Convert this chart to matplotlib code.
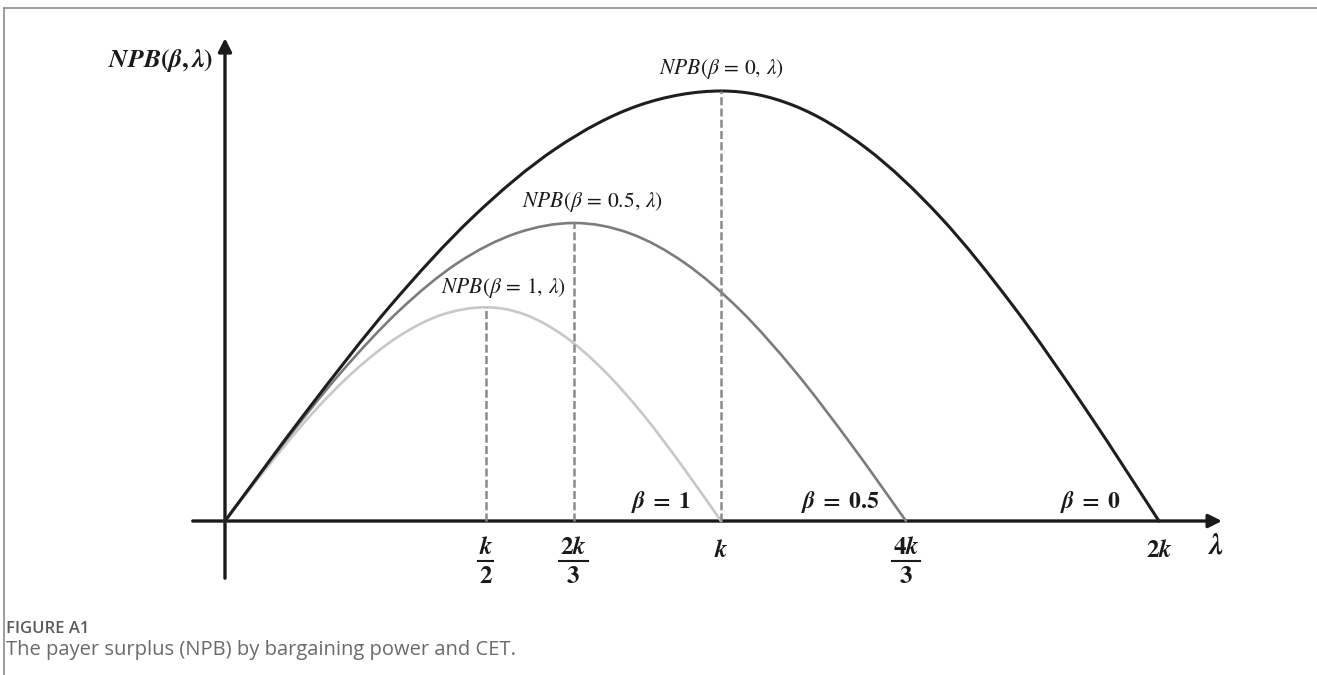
import numpy as np
import matplotlib
matplotlib.use('Agg')
import matplotlib.pyplot as plt
from matplotlib.path import Path
from matplotlib.patches import PathPatch

plt.rcParams['mathtext.fontset'] = 'stix'

# values (lambda in units of k, NPB relative to the beta=0 peak)
betas = ['0', '0.5', '1']
peak_lambda = [1.0, 0.704, 0.526]
peak_npb = [1.0, 0.693, 0.497]

lam_b0 = [0, 0.167, 0.333, 0.5, 0.667, 0.833, 1.0, 1.147, 1.294, 1.442, 1.589, 1.736, 1.883]
npb_b0 = [0, 0.259, 0.5, 0.707, 0.866, 0.966, 1.0, 0.966, 0.866, 0.707, 0.5, 0.259, 0]
lam_b05 = [0, 0.117, 0.235, 0.352, 0.469, 0.587, 0.704, 0.816, 0.927, 1.039, 1.150, 1.262, 1.373]
npb_b05 = [0, 0.179, 0.347, 0.490, 0.600, 0.669, 0.693, 0.669, 0.600, 0.490, 0.347, 0.179, 0]
lam_b1 = [0, 0.088, 0.175, 0.263, 0.351, 0.438, 0.526, 0.605, 0.684, 0.763, 0.842, 0.921, 1.0]
npb_b1 = [0, 0.129, 0.249, 0.351, 0.430, 0.480, 0.497, 0.480, 0.430, 0.351, 0.249, 0.129, 0]

tick_pos = [0.526, 0.702, 1.0, 1.373, 1.883]
tick_num = [r'$\mathbfit{k}$', r'$\mathbf{2}\mathbfit{k}$', r'$\mathbfit{k}$',
            r'$\mathbf{4}\mathbfit{k}$', r'$\mathbf{2}\mathbfit{k}$']
tick_den = [r'$\mathbf{2}$', r'$\mathbf{3}$', None, r'$\mathbf{3}$', None]

colors = ['#1e1e1e', '#7c7c7c', '#c8c8c8']
widths = [2.2, 1.9, 1.9]


def smooth_path(xs, ys):
    pts = np.column_stack([xs, ys]).astype(float)
    verts = [pts[0]]
    codes = [Path.MOVETO]
    n = len(pts)
    for i in range(n - 1):
        p0 = pts[max(i - 1, 0)]
        p1 = pts[i]
        p2 = pts[i + 1]
        p3 = pts[min(i + 2, n - 1)]
        verts += [p1 + (p2 - p0) / 6, p2 - (p3 - p1) / 6, p2]
        codes += [Path.CURVE4] * 3
    return Path(verts, codes)


fig = plt.figure(figsize=(13.17, 6.75), dpi=100)
ax = fig.add_axes([0, 0, 1, 1])
ax.set_xlim(-0.4536, 2.2016)
ax.set_ylim(-0.3581, 1.2116)
ax.axis('off')

# frame of the figure panel
fig.add_artist(plt.Line2D([0.003, 1.0], [0.988, 0.988], color='#8c8c8c', lw=1.2, transform=fig.transFigure))
fig.add_artist(plt.Line2D([0.003, 0.003], [0.0, 0.988], color='#8c8c8c', lw=1.2, transform=fig.transFigure))

# axes with arrows
ax.annotate('', xy=(2.010, 0), xytext=(-0.065, 0),
            arrowprops=dict(arrowstyle='-|>', lw=2.4, color='#1a1a1a', mutation_scale=20, shrinkA=0, shrinkB=0))
ax.annotate('', xy=(0, 1.123), xytext=(0, -0.133),
            arrowprops=dict(arrowstyle='-|>', lw=2.4, color='#1a1a1a', mutation_scale=20, shrinkA=0, shrinkB=0))

curves = [(lam_b1, npb_b1, 2), (lam_b05, npb_b05, 1), (lam_b0, npb_b0, 0)]
for xs, ys, i in curves:
    ax.add_patch(PathPatch(smooth_path(xs, ys), fill=False, edgecolor=colors[i], lw=widths[i],
                           capstyle='round', zorder=3))

for i in range(3):
    ax.plot([peak_lambda[i], peak_lambda[i]], [0, peak_npb[i]], color='#8a8a8a', lw=1.8,
            dashes=(3.2, 1.3), zorder=4)

# curve labels
lab_dx = [0.0, 0.038, 0.036]
lab_dy = [0.024, 0.020, 0.018]
for i, b in enumerate(betas):
    ax.text(peak_lambda[i] + lab_dx[i], peak_npb[i] + lab_dy[i],
            r'$NPB(\beta\,=\,%s,\,\lambda)$' % b, ha='center', va='bottom', fontsize=15.5, color='#1a1a1a')

# beta labels on the axis
beta_lab_x = [1.744, 1.240, 0.880]
for i, b in enumerate(betas):
    ax.text(beta_lab_x[i], 0.044, r'$\mathbfit{\beta}\;\mathbf{=}\;\mathbf{%s}$' % b,
            ha='center', va='center', fontsize=17, color='#1a1a1a')

# tick labels
for x, num, den in zip(tick_pos, tick_num, tick_den):
    if den is None:
        ax.text(x, -0.067, num, ha='center', va='center', fontsize=18, color='#1a1a1a')
    else:
        ax.text(x, -0.06, num, ha='center', va='center', fontsize=18, color='#1a1a1a')
        half = 0.015 if len(num) < 20 else 0.029
        ax.plot([x - half, x + half], [-0.093, -0.093], color='#1a1a1a', lw=1.5)
        ax.text(x, -0.128, den, ha='center', va='center', fontsize=18, color='#1a1a1a')

ax.text(1.998, -0.058, r'$\mathbfit{\lambda}$', ha='center', va='center', fontsize=21, color='#1a1a1a')
ax.text(-0.025, 1.07, r'$\mathbfit{NPB}\mathbf{(}\mathbfit{\beta}\mathbf{,}\,\mathbfit{\lambda}\mathbf{)}$',
        ha='right', va='center', fontsize=18.5, color='#1a1a1a')

# caption
fig.text(0.0046, 1 - 629 / 675, 'FIGURE A1', fontsize=12, family='Open Sans', fontweight='semibold',
         color='#5a5a5a', va='center')
fig.text(0.0046, 1 - 650 / 675, 'The payer surplus (NPB) by bargaining power and CET.', fontsize=14.5,
         family='Open Sans', color='#6a6a6a', va='center')

fig.savefig('out.png', dpi=100)
